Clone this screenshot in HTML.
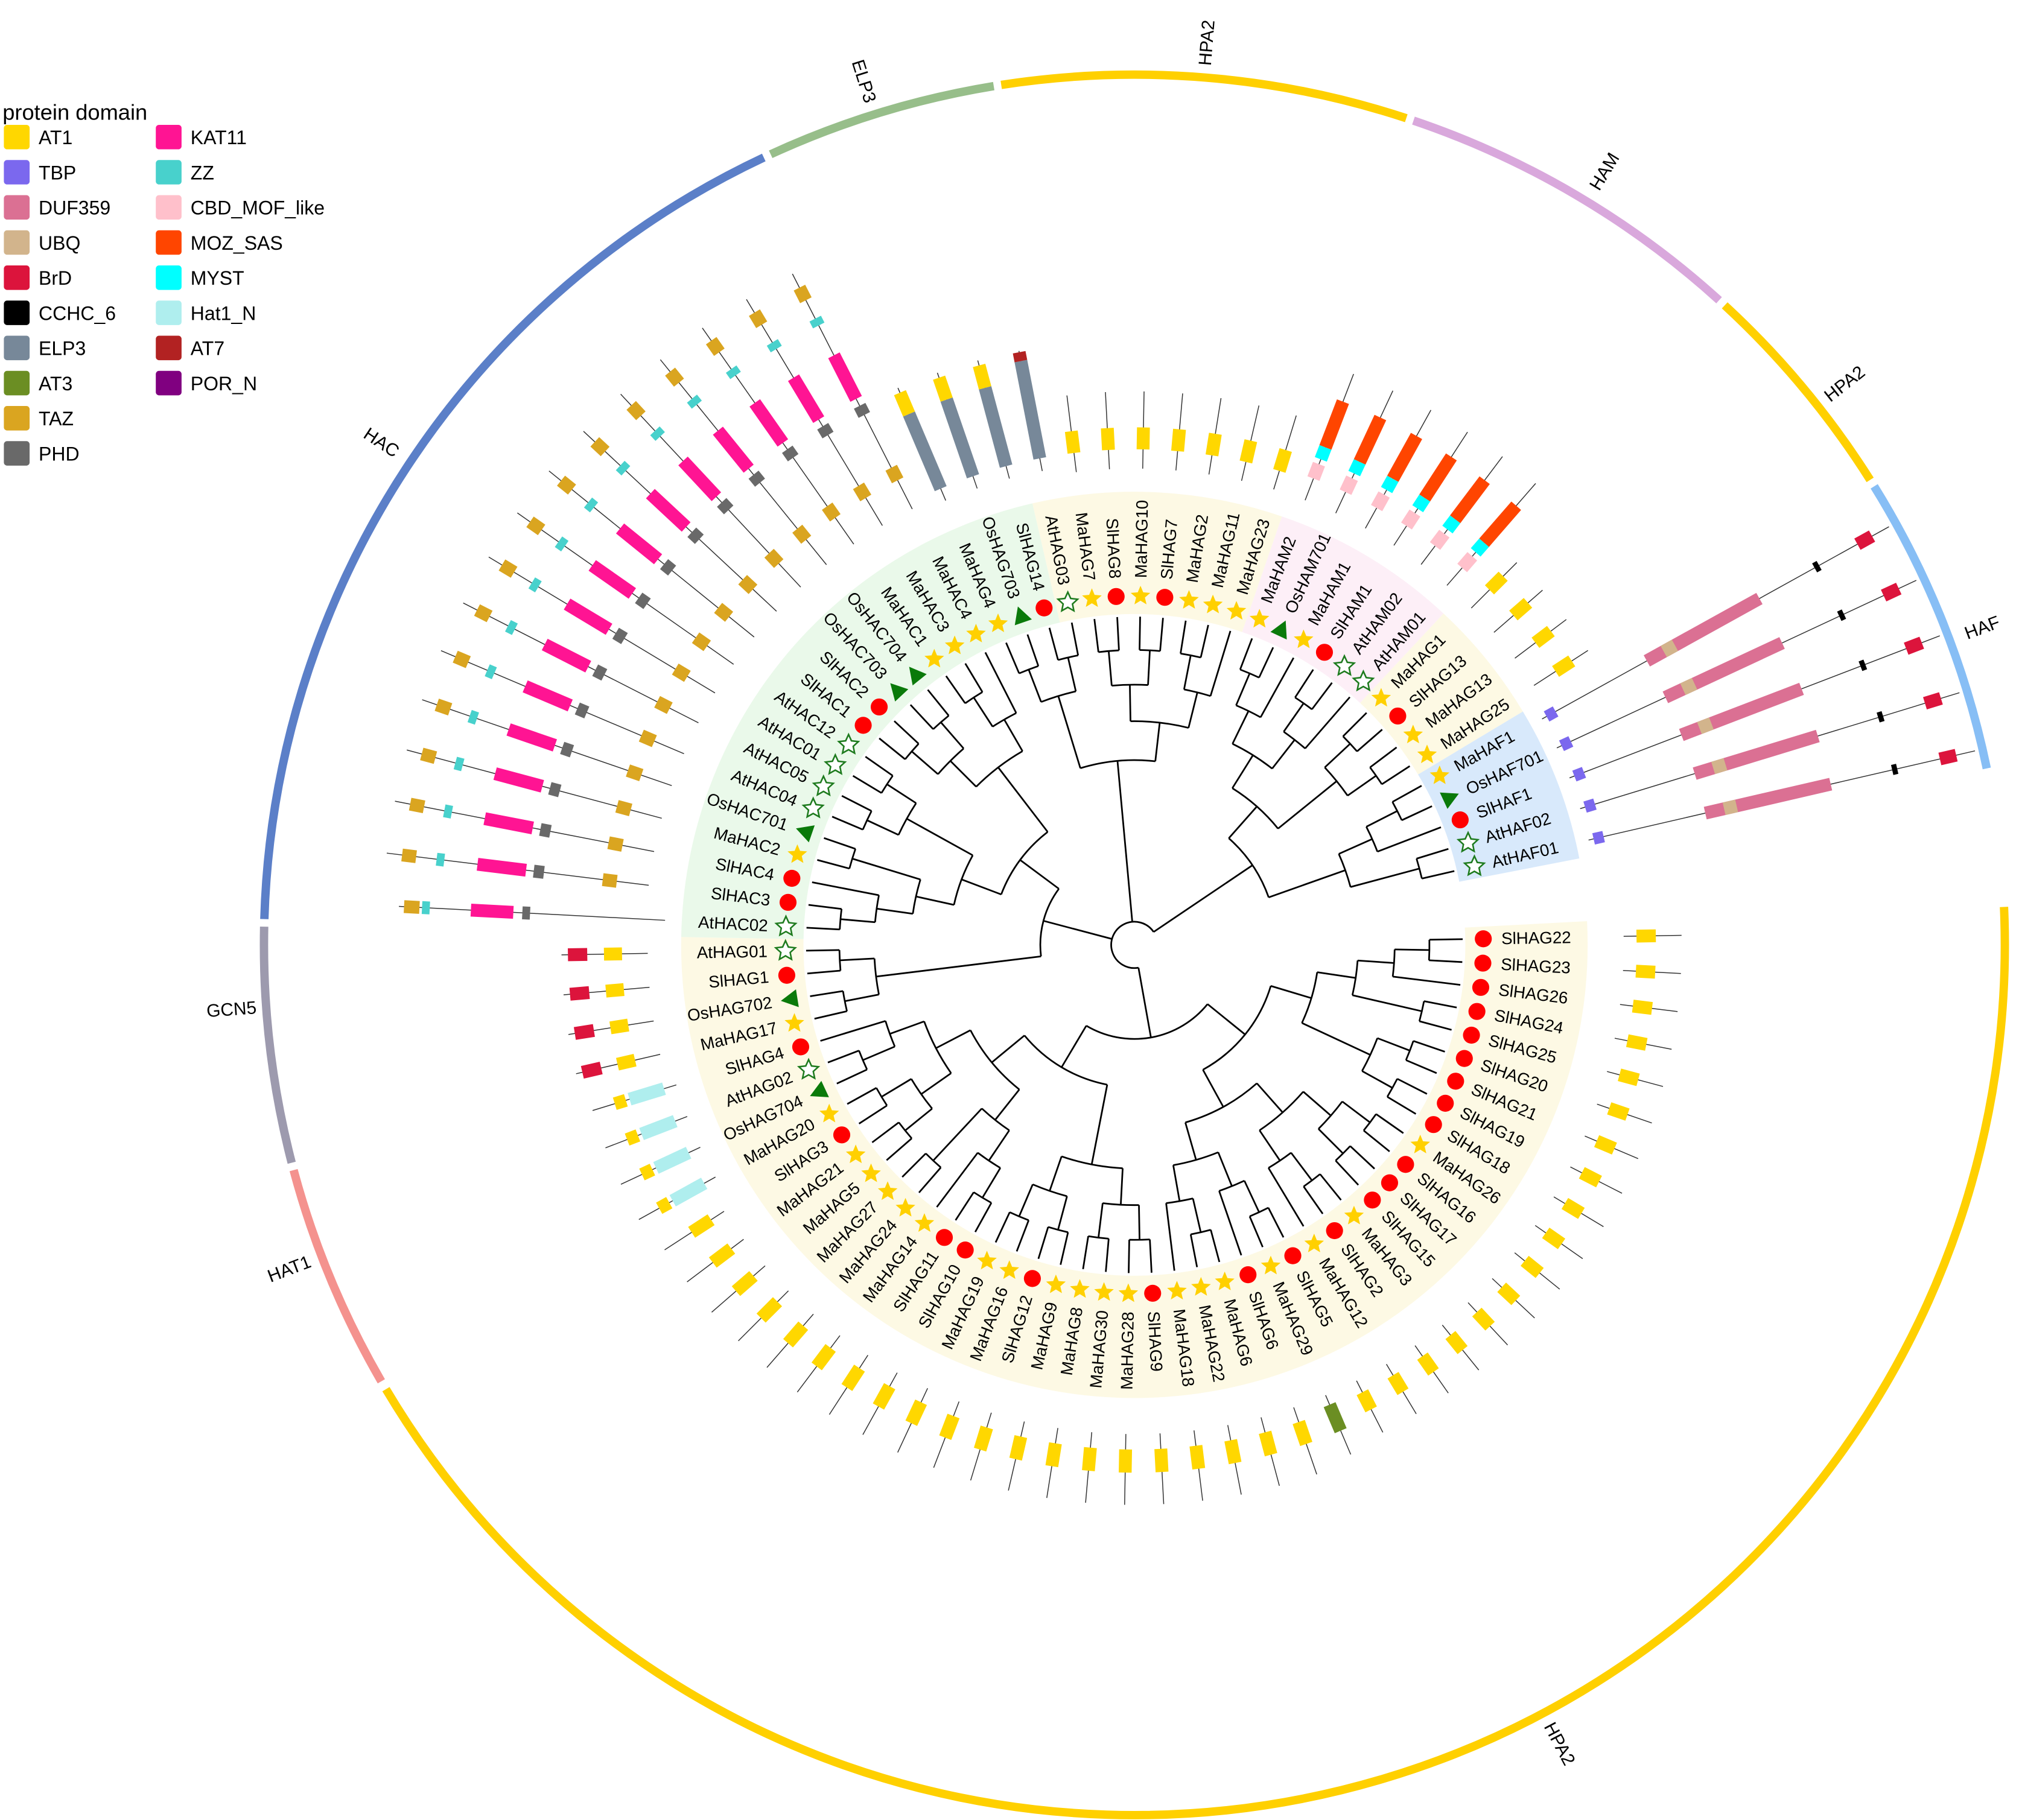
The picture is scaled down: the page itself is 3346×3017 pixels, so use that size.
<!DOCTYPE html>
<html><head><meta charset="utf-8"><title>HAT phylogeny</title>
<style>
html,body{margin:0;padding:0;background:#fff;}
svg{display:block;font-family:"Liberation Sans",Arial,sans-serif;}
</style></head>
<body>
<svg id="chart" width="3346" height="3017" viewBox="0 0 1568 1413.8" preserveAspectRatio="none" xmlns="http://www.w3.org/2000/svg">
<g id="bands"></g>
<g id="ring"></g>
<g id="tree"></g>
<g id="doms"></g>
<g id="marks"></g>
<g id="labs"></g>
<g id="legend"></g>
</svg>
<script>
const leafNames=["SlHAG22","SlHAG23","SlHAG26","SlHAG24","SlHAG25","SlHAG20","SlHAG21","SlHAG19","SlHAG18","MaHAG26","SlHAG16","SlHAG17","SlHAG15","MaHAG3","SlHAG2","MaHAG12","SlHAG5","MaHAG29","SlHAG6","MaHAG6","MaHAG22","MaHAG18","SlHAG9","MaHAG28","MaHAG30","MaHAG8","MaHAG9","SlHAG12","MaHAG16","MaHAG19","SlHAG10","SlHAG11","MaHAG14","MaHAG24","MaHAG27","MaHAG5","MaHAG21","SlHAG3","MaHAG20","OsHAG704","AtHAG02","SlHAG4","MaHAG17","OsHAG702","SlHAG1","AtHAG01","AtHAC02","SlHAC3","SlHAC4","MaHAC2","OsHAC701","AtHAC04","AtHAC05","AtHAC01","AtHAC12","SlHAC1","SlHAC2","OsHAC703","OsHAC704","MaHAC1","MaHAC3","MaHAC4","MaHAG4","OsHAG703","SlHAG14","AtHAG03","MaHAG7","SlHAG8","MaHAG10","SlHAG7","MaHAG2","MaHAG11","MaHAG23","MaHAM2","OsHAM701","MaHAM1","SlHAM1","AtHAM02","AtHAM01","MaHAG1","SlHAG13","MaHAG13","MaHAG25","MaHAF1","OsHAF701","SlHAF1","AtHAF02","AtHAF01"];
const domainNames=["AT1","TBP","DUF359","UBQ","BrD","CCHC_6","ELP3","AT3","TAZ","PHD","KAT11","ZZ","CBD_MOF_like","MOZ_SAS","MYST","Hat1_N","AT7","POR_N"];
const domainColors=["#FFD700","#7B68EE","#DB7093","#D2B48C","#DC143C","#000000","#778899","#6B8E23","#DAA520","#696969","#FF1493","#48D1CC","#FFC0CB","#FF4500","#00FFFF","#AFEEEE","#B22222","#800080"];
const groupNames=["HPA2","HAT1","GCN5","HAC","ELP3","HPA2","HAM","HPA2","HAF"];
const groupStart=[-2.5,149.9,165.5,181.7,245.3,261.2,288.7,312.7,328.2];
const groupEnd=[149.3,165.0,181.2,244.8,260.7,288.2,312.2,327.7,348.3];
const groupLabelAngle=[62,159,175.9,213.7,252.6,274.6,301.3,321.7,339.5];
const groupColors=["#FFD000","#F4928E","#9D9AAE","#5B7FC8","#97BE8A","#FFD000","#D9A8DC","#FFD000","#87BEF5"];
const bandFirst=[1,47,66,74,80,84];
const bandLast=[46,65,73,79,83,88];
const bandColors=["#FDF9E4","#EAF9EA","#FDF9E4","#FDEFF7","#FDF9E4","#D8E9FB"];
// domain tracks: [leafFrom, leafTo, lineStart, lineEnd, [[domain, r0, r1],...]]
const domainTracks=[
 [1,17,380,425,[["AT1",390,405]]],
 [18,18,380,430,[["AT3",388,410]]],
 [19,38,380,435,[["AT1",392,410]]],
 [39,42,372,440,[["Hat1_N",382,410],["AT1",413,422]]],
 [43,46,378,445,[["AT1",398,412],["BrD",425,440]]],
 [47,47,365,572,[["PHD",470,476],["KAT11",483,516],["ZZ",548,554],["TAZ",556,568]]],
 [48,62,380,585,[["TAZ",405,416],["PHD",462,470],["KAT11",476,514],["ZZ",540,546],["TAZ",562,573]]],
 [63,65,375,470,[["ELP3",385,448],["AT1",448,466]]],
 [66,66,375,470,[["ELP3",385,462],["AT7",462,469]]],
 [67,73,370,430,[["AT1",385,402]]],
 [74,79,370,475,[["CBD_MOF_like",388,400],["MYST",404,414],["MOZ_SAS",414,452]]],
 [80,83,370,420,[["AT1",390,405]]],
 [84,88,362,670,[["TBP",366,374],["DUF359",455,555],["UBQ",470,480],["CCHC_6",604,608],["BrD",642,655]]]
];
const cx=881, cy=734;
const tipR=255, markR=271, labR=285;
const NS="http://www.w3.org/2000/svg";
function ang(i){return -1+(i-1)*4;}
function P(r,a){const t=a*Math.PI/180;return [cx+r*Math.cos(t),cy+r*Math.sin(t)];}
function mk(tag,attrs,parent){const e=document.createElementNS(NS,tag);for(const k in attrs)e.setAttribute(k,attrs[k]);parent.appendChild(e);return e;}
function arcPath(r,a0,a1){const p0=P(r,a0),p1=P(r,a1);const large=(a1-a0)>180?1:0;return `M${p0[0]},${p0[1]} A${r},${r} 0 ${large} 1 ${p1[0]},${p1[1]}`;}
function sector(r0,r1,a0,a1){const p0=P(r1,a0),p1=P(r1,a1),p2=P(r0,a1),p3=P(r0,a0);const l=(a1-a0)>180?1:0;return `M${p0[0]},${p0[1]} A${r1},${r1} 0 ${l} 1 ${p1[0]},${p1[1]} L${p2[0]},${p2[1]} A${r0},${r0} 0 ${l} 0 ${p3[0]},${p3[1]} Z`;}

// bands
const gB=document.getElementById('bands');
for(let b=0;b<bandFirst.length;b++){
 const e=mk('path',{d:sector(257,352,ang(bandFirst[b])-2,ang(bandLast[b])+2),fill:bandColors[b]},gB);
 
 
}
// ring
const gR=document.getElementById('ring');
for(let g=0;g<groupNames.length;g++){
 const e=mk('path',{d:arcPath(676,groupStart[g],groupEnd[g]),fill:'none',stroke:groupColors[g],'stroke-width':6.5},gR);
 
 
 const a=groupLabelAngle[g];const p=P(703,a);
 const rot=Math.cos(a*Math.PI/180)>=-0.01?a:a+180;
 const t=mk('text',{x:p[0],y:p[1],'font-size':14,'text-anchor':'middle','dominant-baseline':'central',transform:`rotate(${rot} ${p[0]} ${p[1]})`},gR);
 t.textContent=groupNames[g];
 
 
}
// tree
function bal(a,b){if(a===b)return a;const m=Math.floor((a+b)/2);return [bal(a,m),bal(m+1,b)];}
const treeTopo=[
 [[bal(1,9),[bal(10,16),bal(17,22)]],[bal(23,30),[bal(31,35),bal(36,42)]]],
 [bal(43,46),[bal(47,55),bal(56,62)]],
 [bal(63,66),bal(67,73)],
 [[bal(74,79),bal(80,83)],bal(84,88)]
];
function height(n){if(typeof n==='number')return 0;return 1+Math.max(...n.map(height));}
const H=height(treeTopo);
const gT=document.getElementById('tree');
function layout(n){
 if(typeof n==='number')return {a:ang(n),r:tipR};
 const kids=n.map(layout);const h=height(n);
 const r=18+(tipR-18)*Math.pow(1-h/H,0.75);
 const as=kids.map(k=>k.a);const a0=Math.min(...as),a1=Math.max(...as);
 const arc=mk('path',{d:arcPath(r,a0,a1),fill:'none',stroke:'#000','stroke-width':1.3},gT);
 
 
 kids.forEach(k=>{const p0=P(r,k.a),p1=P(k.r,k.a);
  const l=mk('line',{x1:p0[0],y1:p0[1],x2:p1[0],y2:p1[1],stroke:'#000','stroke-width':1.3},gT);
  
  });
 return {a:(a0+a1)/2,r:r};
}
layout(treeTopo);
// domains
const gD=document.getElementById('doms');
domainTracks.forEach(tr=>{
 for(let i=tr[0];i<=tr[1];i++){
  const a=ang(i);
  const g=mk('g',{transform:`rotate(${a} ${cx} ${cy})`},gD);
  
  
  const ln=mk('line',{x1:cx+tr[2],y1:cy,x2:cx+tr[3],y2:cy,stroke:'#333','stroke-width':0.7},g);
  
  
  tr[4].forEach(d=>{
   const col=domainColors[domainNames.indexOf(d[0])];
   const th=d[0]==='CCHC_6'?8:(d[0]==='TBP'?9:10);
   const rc=mk('rect',{x:cx+d[1],y:cy-th/2,width:d[2]-d[1],height:th,fill:col},g);
   
   
  });
 }
});
// markers
const gM=document.getElementById('marks');
function starPts(x,y,R,r){let s=[];for(let k=0;k<10;k++){const rr=k%2?r:R;const t=(-90+k*36)*Math.PI/180;s.push((x+rr*Math.cos(t)).toFixed(2)+','+(y+rr*Math.sin(t)).toFixed(2));}return s.join(' ');}
for(let i=1;i<=leafNames.length;i++){
 const n=leafNames[i-1];const a=ang(i);const p=P(markR,a);let e;
 if(n.startsWith('Sl')){e=mk('circle',{cx:p[0],cy:p[1],r:6.6,fill:'#FF0000'},gM);}
 else if(n.startsWith('Ma')){e=mk('polygon',{points:starPts(p[0],p[1],8,3.6),fill:'#FFD000'},gM);}
 else if(n.startsWith('At')){e=mk('polygon',{points:starPts(p[0],p[1],8,3.8),fill:'#fff',stroke:'#1E7B1E','stroke-width':1.2},gM);}
 else {e=mk('polygon',{points:`${p[0]},${p[1]-7} ${p[0]+7},${p[1]+6} ${p[0]-7},${p[1]+6}`,fill:'#0A7A0A',transform:`rotate(${a+90} ${p[0]} ${p[1]})`},gM);}
 
 
}
// labels
const gL=document.getElementById('labs');
for(let i=1;i<=leafNames.length;i++){
 const a=ang(i);const p=P(labR,a);const right=Math.cos(a*Math.PI/180)>0.0;
 const t=mk('text',{x:p[0],y:p[1],'font-size':13,'text-anchor':right?'start':'end','dominant-baseline':'central',transform:`rotate(${right?a:a+180} ${p[0]} ${p[1]})`},gL);
 t.textContent=leafNames[i-1];
 
 
}
// legend
const gLe=document.getElementById('legend');
const tt=mk('text',{x:2,y:93,'font-size':17},gLe);
tt.textContent='protein domain';


domainNames.forEach((d,k)=>{
 const col=k<10?0:1;const row=k<10?k:k-10;
 const x=col?121:3;const y=97+row*27.3;
 const r=mk('rect',{x:x,y:y,width:20,height:19,rx:2.5,fill:domainColors[k]},gLe);
 
 
 const t=mk('text',{x:x+27,y:y+15,'font-size':15},gLe);
 t.textContent=d;
 
 
});
</script>
</body></html>
